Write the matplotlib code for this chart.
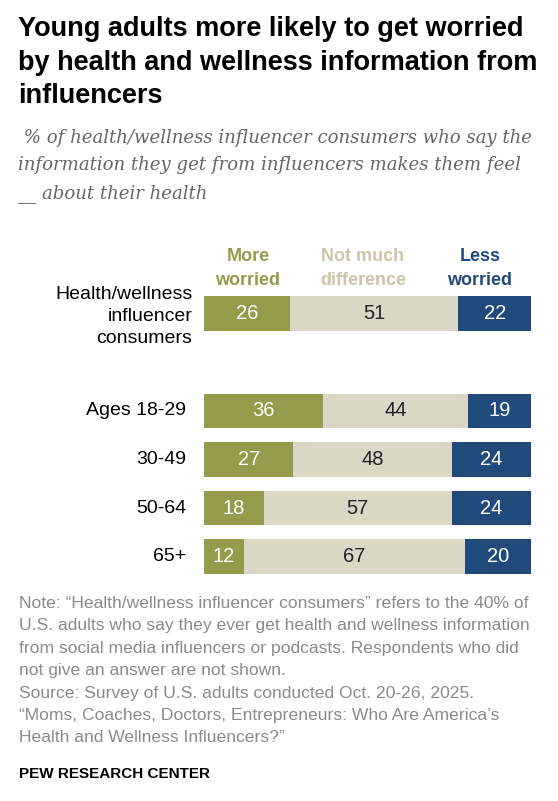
import matplotlib.pyplot as plt

W, H = 558, 801

# data
groups = ["Health/wellness\ninfluencer\nconsumers", "Ages 18-29", "30-49", "50-64", "65+"]
row_pos = [0, 2, 3, 4, 5]
more_worried = [26, 36, 27, 18, 12]
not_much = [51, 44, 48, 57, 67]
less_worried = [22, 19, 24, 24, 20]
series_names = ["More\nworried", "Not much\ndifference", "Less\nworried"]

title = ["Young adults more likely to get worried",
         "by health and wellness information from",
         "influencers"]
subtitle = [" % of health/wellness influencer consumers who say the",
            "information they get from influencers makes them feel",
            "__ about their health"]
note = ["Note: \u201cHealth/wellness influencer consumers\u201d refers to the 40% of",
        "U.S. adults who say they ever get health and wellness information",
        "from social media influencers or podcasts. Respondents who did",
        "not give an answer are not shown.",
        "Source: Survey of U.S. adults conducted Oct. 20-26, 2025.",
        "\u201cMoms, Coaches, Doctors, Entrepreneurs: Who Are America\u2019s",
        "Health and Wellness Influencers?\u201d"]

GREEN = "#959b4b"
BEIGE = "#dad7c7"
NAVY = "#214a7c"
HEAD_COLORS = [GREEN, "#cbc4a6", NAVY]

SANS = ["Liberation Sans", "DejaVu Sans"]

fig = plt.figure(figsize=(W / 100, H / 100), dpi=100)


def px(x, y):
    return x / W, 1 - y / H


def put_lines(x, y0, step, lines, **kw):
    for i, s in enumerate(lines):
        fig.text(*px(x, y0 + i * step), s, va="baseline", **kw)


# title / subtitle
put_lines(18, 36, 33.5, title, family=SANS, weight="bold", size=19.5, color="black")
put_lines(18, 143, 27.5, subtitle, family=["DejaVu Serif"], style="italic",
          size=13.1, color="#666666")

# bars
top, bottom = 289.2, 581.0
ax = fig.add_axes([204.3 / W, 1 - bottom / H, (531 - 204.3) / W, (bottom - top) / H])
left2 = [a for a in more_worried]
left3 = [a + b for a, b in zip(more_worried, not_much)]
ax.barh(row_pos, more_worried, height=0.71, color=GREEN)
ax.barh(row_pos, not_much, left=left2, height=0.71, color=BEIGE)
ax.barh(row_pos, less_worried, left=left3, height=0.71, color=NAVY)
ax.set_xlim(0, 99)
ax.set_ylim(5.5, -0.5)
ax.axis("off")

for y, a, b, c, l2, l3 in zip(row_pos, more_worried, not_much, less_worried, left2, left3):
    ax.text(a / 2, y, str(a), ha="center", va="center", color="white", size=14.5, family=SANS)
    ax.text(l2 + b / 2, y, str(b), ha="center", va="center", color="#222222", size=14.5, family=SANS)
    ax.text(l3 + c / 2, y, str(c), ha="center", va="center", color="white", size=14.5, family=SANS)

# group labels
for i, (y, g) in enumerate(zip(row_pos, groups)):
    off = -12 if i == 0 else -18
    ax.annotate(g, xy=(0, y), xycoords=("axes fraction", "data"),
                xytext=(off, -3 if i == 0 else 0), textcoords="offset pixels",
                ha="right", va="center", multialignment="right",
                linespacing=1.35, size=14, family=SANS, color="black")

# column headers
for x, name, col in zip([248, 363, 480], series_names, HEAD_COLORS):
    put_lines(x, 261, 24, name.split("\n"), ha="center", family=SANS,
              weight="bold", size=13, color=col)

# note / source
put_lines(19, 608, 22.4, note, family=SANS, size=12.6, color="#8a8a8a")
fig.text(*px(19, 778), "PEW RESEARCH CENTER", va="baseline", family=SANS,
         weight="bold", size=11, color="black")

fig.savefig("out.png", dpi=100)
